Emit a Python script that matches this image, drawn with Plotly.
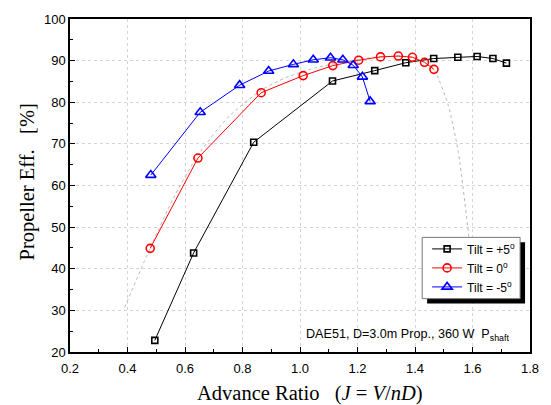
import plotly.graph_objects as go

# Advance ratio J and propeller efficiency (%) for each tilt angle
j_tilt_p5 = [0.495, 0.630, 0.839, 1.113, 1.260, 1.368, 1.465, 1.549, 1.616, 1.671, 1.718]
eff_tilt_p5 = [22.8, 43.8, 70.4, 85.1, 87.6, 89.5, 90.5, 90.8, 91.0, 90.5, 89.4]

j_tilt_0 = [0.479, 0.645, 0.865, 1.011, 1.114, 1.204, 1.280, 1.342, 1.391, 1.433, 1.466]
eff_tilt_0 = [44.9, 66.6, 82.3, 86.4, 88.8, 90.1, 90.9, 91.1, 90.8, 89.6, 87.9]

j_tilt_m5 = [0.481, 0.653, 0.790, 0.891, 0.977, 1.046, 1.106, 1.149, 1.185, 1.217, 1.244]
eff_tilt_m5 = [62.5, 77.6, 84.1, 87.5, 89.1, 90.2, 90.7, 90.2, 88.9, 86.1, 80.2]

# Extrapolated efficiency trend (dotted guide)
j_trend = [0.39, 0.48, 0.56, 0.645, 0.75, 0.865, 0.95, 1.05, 1.15, 1.25, 1.34, 1.40, 1.44, 1.471, 1.516, 1.551, 1.587, 1.600]
eff_trend = [30.7, 45.2, 57.0, 67.3, 76.4, 82.9, 85.9, 88.2, 89.7, 90.7, 91.1, 90.8, 89.8, 87.3, 79.2, 67.9, 47.7, 37.0]

series_names = ["Tilt = +5<sup>o</sup>", "Tilt = 0<sup>o</sup>", "Tilt = -5<sup>o</sup>"]

x_ticks = [0.2, 0.4, 0.6, 0.8, 1.0, 1.2, 1.4, 1.6, 1.8]
y_ticks = [20, 30, 40, 50, 60, 70, 80, 90, 100]

fig = go.Figure()

fig.add_trace(go.Scatter(
    x=j_trend, y=eff_trend, mode="lines", showlegend=False, hoverinfo="skip",
    line=dict(color="#b8b8b8", width=1, dash="dot", shape="spline", smoothing=0.6),
))

styles = [
    ("black", "square-open", 6),
    ("#ff0000", "circle-open", 8),
    ("#0000ff", "triangle-up-open", 9),
]
for (xs, ys), name, (col, sym, size) in zip(
    [(j_tilt_p5, eff_tilt_p5), (j_tilt_0, eff_tilt_0), (j_tilt_m5, eff_tilt_m5)],
    series_names, styles,
):
    fig.add_trace(go.Scatter(
        x=xs, y=ys, mode="lines+markers", name=name,
        line=dict(color=col, width=1),
        marker=dict(symbol=sym, size=size, color=col, line=dict(color=col, width=1.6)),
    ))

# plot area in pixels: left 70, right 535, top 15, bottom 352
L, R, T, B = 70, 535, 15, 352
W, H = R - L, B - T

def px(xp):
    return (xp - L) / W

def py(yp):
    return (B - yp) / H

# legend frame with drop shadow
fig.add_shape(type="rect", xref="paper", yref="paper",
              x0=px(431), x1=px(530), y0=py(303), y1=py(241),
              fillcolor="black", line=dict(width=0), layer="above")
fig.add_shape(type="rect", xref="paper", yref="paper",
              x0=px(426), x1=px(525), y0=py(298), y1=py(236),
              fillcolor="white", line=dict(color="#777777", width=1), layer="above")

fig.add_annotation(
    x=px(516), y=py(335), xref="paper", yref="paper", xanchor="right", yanchor="middle",
    text="DAE51, D=3.0m Prop., 360 W\u00a0\u00a0P<sub>shaft</sub>", showarrow=False,
    font=dict(family="Liberation Sans, Arial", size=12.6, color="black"),
)

title_font = dict(family="Liberation Serif, Times New Roman", size=20.5, color="black")
nb = "\u00a0"

# axis titles
fig.add_annotation(
    x=px(313), y=py(394), xref="paper", yref="paper", xanchor="center", yanchor="middle",
    text="Advance Ratio" + nb * 3 + "(<i>J</i> = <i>V</i>/<i>nD</i>)",
    showarrow=False, font=title_font,
)
fig.add_annotation(
    x=px(27), y=py(180), xref="paper", yref="paper", xanchor="center", yanchor="middle",
    text="Propeller Eff." + nb * 3 + "[%]", textangle=-90,
    showarrow=False, font=title_font,
)

axis_common = dict(
    showline=True, linecolor="black", linewidth=1.5, mirror=True,
    ticks="inside", ticklen=5, tickcolor="black", tickwidth=1,
    showgrid=True, gridcolor="#d4d4d4", griddash="dot", gridwidth=1,
    zeroline=False,
    tickfont=dict(family="Liberation Sans, Arial", size=13, color="black"),
)

fig.update_layout(
    width=551, height=405,
    margin=dict(l=L, r=551 - R, t=T, b=405 - B),
    paper_bgcolor="white", plot_bgcolor="white",
    xaxis=dict(
        range=[0.2, 1.8], tickvals=x_ticks, ticktext=[f"{v:.1f}" for v in x_ticks],
        minor=dict(ticks="inside", dtick=0.1, ticklen=3, tickcolor="black", showgrid=False),
        ticklabelstandoff=4,
        **axis_common,
    ),
    yaxis=dict(
        range=[20, 100], tickvals=y_ticks,
        minor=dict(ticks="inside", dtick=5, ticklen=3, tickcolor="black", showgrid=False),
        **axis_common,
    ),
    legend=dict(
        x=px(431), y=py(233), xanchor="left", yanchor="top",
        bgcolor="rgba(0,0,0,0)", borderwidth=0,
        font=dict(family="Liberation Sans, Arial", size=12, color="black"),
        itemwidth=30, tracegroupgap=0,
    ),
    showlegend=True,
)

fig.write_html("out.html")
